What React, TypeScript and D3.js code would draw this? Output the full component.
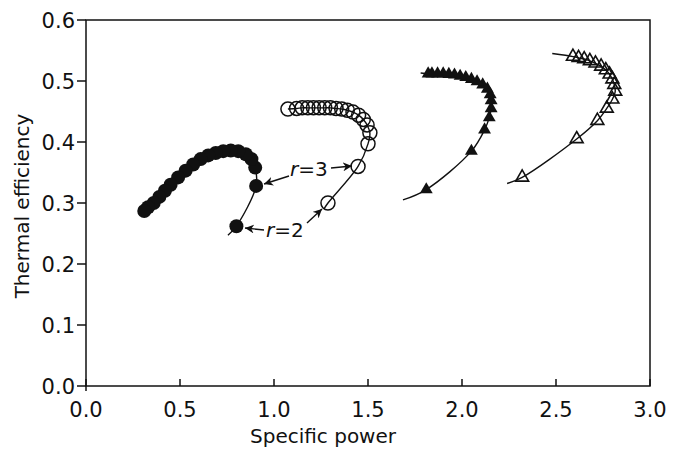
import React from "react";
import * as d3 from "d3";

const W = 681;
const H = 449;

const xTicks = [0, 0.5, 1.0, 1.5, 2.0, 2.5, 3.0];
const yTicks = [0, 0.1, 0.2, 0.3, 0.4, 0.5, 0.6];

// Series 1: filled circles (ordered by increasing r, starting r=2)
const filledCircles: [number, number][] = [
  [0.80, 0.262], [0.905, 0.328], [0.9, 0.358], [0.88, 0.372], [0.85, 0.38],
  [0.81, 0.385], [0.77, 0.386], [0.73, 0.385], [0.69, 0.382], [0.65, 0.378],
  [0.61, 0.372], [0.57, 0.363], [0.53, 0.353], [0.49, 0.342], [0.45, 0.33],
  [0.42, 0.32], [0.39, 0.31], [0.36, 0.30], [0.33, 0.293], [0.31, 0.287],
];
const filledCirclesStart: [number, number] = [0.755, 0.247];

// Series 2: open circles
const openCircles: [number, number][] = [
  [1.287, 0.300], [1.447, 0.360], [1.50, 0.397], [1.51, 0.415], [1.495, 0.428],
  [1.475, 0.437], [1.45, 0.444], [1.42, 0.449], [1.39, 0.452], [1.36, 0.454],
  [1.33, 0.455], [1.30, 0.456], [1.27, 0.456], [1.24, 0.456], [1.21, 0.456],
  [1.18, 0.456], [1.15, 0.456], [1.12, 0.455], [1.074, 0.454],
];
const openCirclesStart: [number, number] = [1.265, 0.29];

// Series 3: filled triangles
const filledTriangles: [number, number][] = [
  [1.81, 0.322], [2.05, 0.385], [2.12, 0.42], [2.145, 0.44], [2.155, 0.455],
  [2.155, 0.468], [2.15, 0.478], [2.135, 0.487], [2.11, 0.494], [2.08, 0.499],
  [2.05, 0.503], [2.02, 0.506], [1.99, 0.508], [1.96, 0.51], [1.93, 0.511],
  [1.90, 0.512], [1.87, 0.512], [1.84, 0.512], [1.82, 0.512],
];
const filledTrianglesStart: [number, number] = [1.686, 0.305];
const filledTrianglesEnd: [number, number] = [1.78, 0.513];

// Series 4: open triangles
const openTriangles: [number, number][] = [
  [2.32, 0.342], [2.61, 0.405], [2.72, 0.435], [2.77, 0.455], [2.80, 0.47],
  [2.815, 0.483], [2.81, 0.494], [2.80, 0.503], [2.785, 0.511], [2.765, 0.518],
  [2.74, 0.524], [2.71, 0.529], [2.68, 0.533], [2.65, 0.536], [2.62, 0.538],
  [2.59, 0.54],
];
const openTrianglesStart: [number, number] = [2.24, 0.332];
const openTrianglesEnd: [number, number] = [2.48, 0.545];

const FONT = "DejaVu Sans, sans-serif";

export default function App() {
  const x = d3.scaleLinear().domain([0, 3]).range([86, 650]);
  const y = d3.scaleLinear().domain([0, 0.6]).range([386, 20]);

  const line = d3
    .line<[number, number]>()
    .x((d) => x(d[0]))
    .y((d) => y(d[1]))
    .curve(d3.curveCatmullRom.alpha(0.5));

  const tri = d3.symbol().type(d3.symbolTriangle).size(72)()!;

  const paths = [
    [filledCirclesStart, ...filledCircles],
    [openCirclesStart, ...openCircles],
    [filledTrianglesStart, ...filledTriangles, filledTrianglesEnd],
    [openTrianglesStart, ...openTriangles, openTrianglesEnd],
  ];

  const x0 = x(0), x1 = x(3), y0 = y(0), y1 = y(0.6);

  return (
    <svg
      width={W}
      height={H}
      style={{ position: "absolute", left: 0, top: 0, background: "#fff" }}
      fontFamily={FONT}
    >
      <defs>
        <marker id="ah" viewBox="0 0 10 10" refX="10" refY="5" markerWidth="9" markerHeight="9" markerUnits="userSpaceOnUse" orient="auto">
          <path d="M0,0 L10,5 L0,10 L3,5 Z" fill="#111" />
        </marker>
      </defs>
      <rect x={0} y={0} width={W} height={H} fill="#fff" />
      {/* frame */}
      <rect x={x0} y={y1} width={x1 - x0} height={y0 - y1} fill="none" stroke="#111" strokeWidth={1.5} />
      {/* y ticks */}
      {yTicks.map((t) => (
        <g key={"y" + t}>
          <line x1={x0 - 9} x2={x0} y1={y(t)} y2={y(t)} stroke="#111" strokeWidth={1.5} />
          <text x={x0 - 11} y={y(t)} dy="0.36em" textAnchor="end" fontSize={21} fill="#111">
            {t.toFixed(1)}
          </text>
        </g>
      ))}
      {/* x ticks */}
      {xTicks.map((t) => (
        <g key={"x" + t}>
          <line x1={x(t)} x2={x(t)} y1={y0 - 7} y2={t === 0 ? y0 + 5 : y0} stroke="#111" strokeWidth={1.5} />
          <text x={x(t)} y={y0 + 31} textAnchor="middle" fontSize={21} fill="#111">
            {t.toFixed(1)}
          </text>
        </g>
      ))}
      <text x={323} y={443} textAnchor="middle" fontSize={20} fill="#111">
        Specific power
      </text>
      <text transform={`translate(29,${(y0 + y1) / 2 + 3}) rotate(-90)`} textAnchor="middle" fontSize={20} fill="#111">
        Thermal efficiency
      </text>

      {/* curves */}
      {paths.map((p, i) => (
        <path key={"l" + i} d={line(p as [number, number][])!} fill="none" stroke="#111" strokeWidth={1.4} />
      ))}

      {/* markers */}
      {filledCircles.map((d, i) => (
        <circle key={"fc" + i} cx={x(d[0])} cy={y(d[1])} r={7} fill="#111" />
      ))}
      {openCircles.map((d, i) => (
        <circle key={"oc" + i} cx={x(d[0])} cy={y(d[1])} r={7} fill="none" stroke="#111" strokeWidth={1.5} />
      ))}
      {filledTriangles.map((d, i) => (
        <path key={"ft" + i} d={tri} transform={`translate(${x(d[0])},${y(d[1])})`} fill="#111" />
      ))}
      {openTriangles.map((d, i) => (
        <path key={"ot" + i} d={tri} transform={`translate(${x(d[0])},${y(d[1])})`} fill="none" stroke="#111" strokeWidth={1.6} />
      ))}

      {/* annotations */}
      <text x={290} y={176} fontSize={20} fill="#111">
        <tspan fontStyle="italic">r</tspan>=3
      </text>
      <line x1={289} y1={176} x2={264} y2={184} stroke="#111" strokeWidth={1.4} markerEnd="url(#ah)" />
      <line x1={331} y1={168} x2={352} y2={166} stroke="#111" strokeWidth={1.4} markerEnd="url(#ah)" />
      <text x={266} y={237} fontSize={20} fill="#111">
        <tspan fontStyle="italic">r</tspan>=2
      </text>
      <line x1={264} y1={230} x2={245} y2={228} stroke="#111" strokeWidth={1.4} markerEnd="url(#ah)" />
      <line x1={307} y1={223} x2={322} y2={209} stroke="#111" strokeWidth={1.4} markerEnd="url(#ah)" />
    </svg>
  );
}
